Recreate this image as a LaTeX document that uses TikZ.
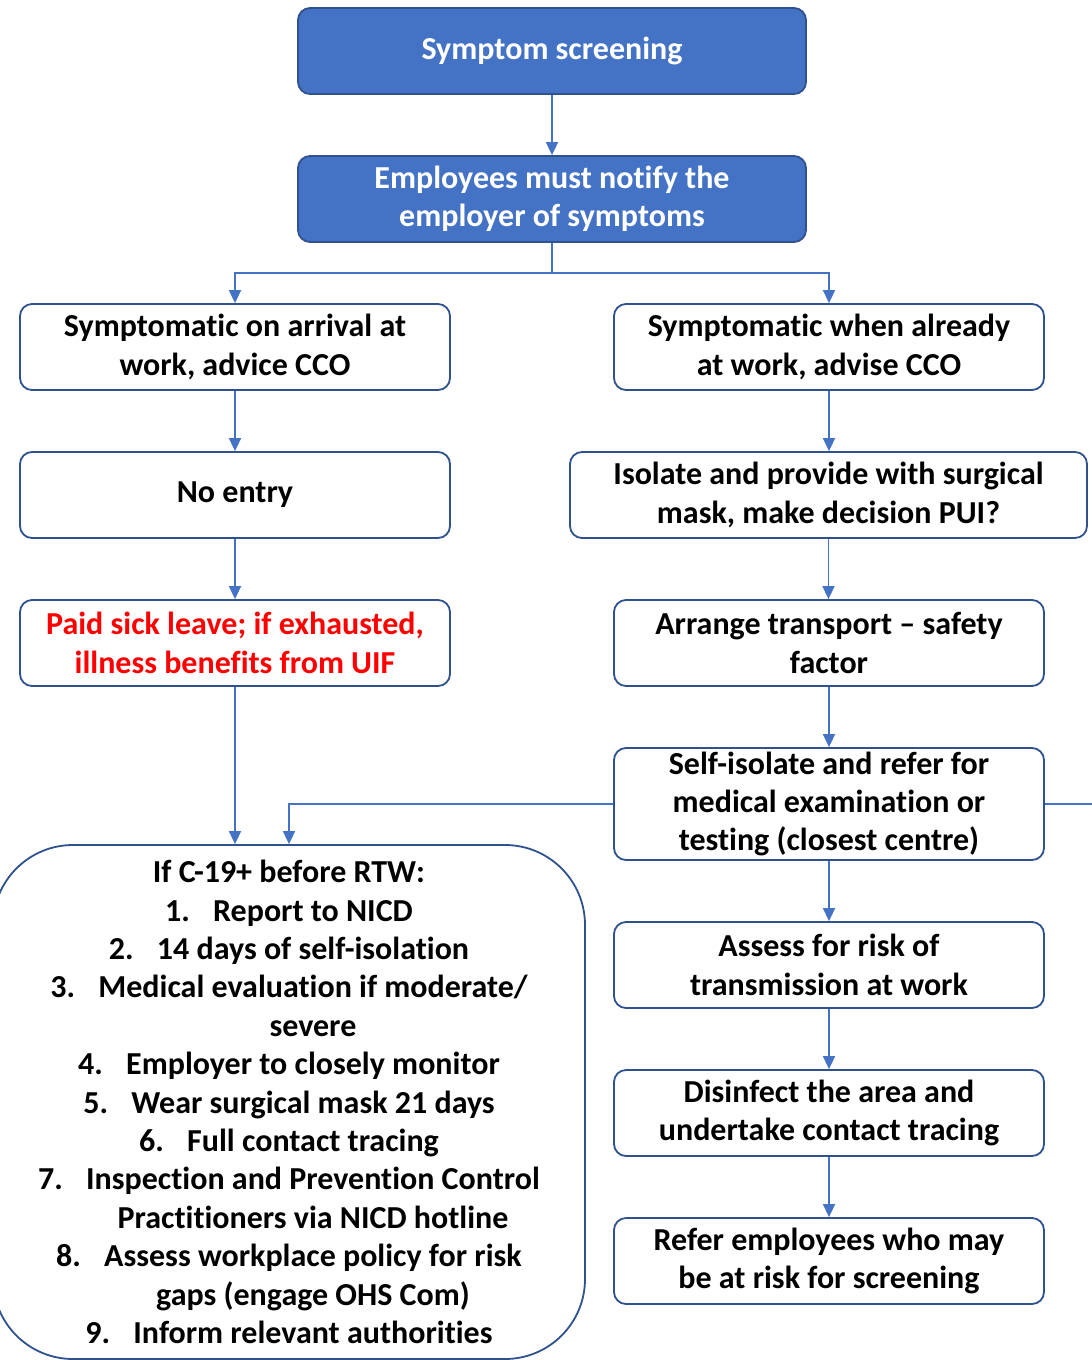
\documentclass[tikz,border=0pt]{standalone}
\usepackage{fontspec}
\setmainfont{Carlito}[Ligatures=CommonOff]
\usetikzlibrary{arrows.meta}

\definecolor{boxblue}{HTML}{4472C4}
\definecolor{boxline}{HTML}{2F528F}
\definecolor{warnred}{HTML}{FF0000}

\newcommand{\numlbl}[1]{\makebox[48pt][l]{#1}}
\newcommand{\hangin}{\hspace*{48pt}}

\tikzset{
    kasten/.style={draw=boxline, line width=1.8pt, fill=white, rounded corners=12pt,
        minimum width=430pt, minimum height=86pt, align=center, inner sep=2pt,
        font=\fontsize{32}{38.4}\selectfont\bfseries},
    blaukasten/.style={kasten, fill=boxblue, text=white, minimum width=508pt},
    pfeil/.style={draw=boxblue, line width=1.6pt, -{Triangle[length=13pt,width=12pt]}},
    linie/.style={draw=boxblue, line width=1.6pt}
}

\begin{document}
\begin{tikzpicture}[x=1pt,y=-1pt]
    \useasboundingbox (0,0) rectangle (1092,1360);
    \path node[blaukasten] (screen) at (552,51) {Symptom screening}
        node[blaukasten] (notify) at (552,199) {Employees must notify the\\employer of symptoms}
        node[kasten] (arrive) at (235,347) {Symptomatic on arrival at\\work, advice CCO}
        node[kasten] (atwork) at (829,347) {Symptomatic when already\\at work, advise CCO}
        node[kasten] (noentry) at (235,495) {No entry}
        node[kasten, minimum width=517pt] (isolate) at (828.5,495) {Isolate and provide with surgical\\mask, make decision PUI?}
        node[kasten, text=warnred] (sickleave) at (235,643) {Paid sick leave; if exhausted,\\illness benefits from UIF}
        node[kasten] (transport) at (829,643) {Arrange transport -- safety\\factor}
        node[kasten, minimum height=112pt, inner sep=0pt] (selfiso) at (829,804) {Self-isolate and refer for\\medical examination or\\testing (closest centre)}
        node[kasten] (assess) at (829,965) {Assess for risk of\\transmission at work}
        node[kasten] (disinfect) at (829,1113) {Disinfect the area and\\undertake contact tracing}
        node[kasten] (refer) at (829,1261) {Refer employees who may\\be at risk for screening}
        node[kasten, minimum width=592pt, minimum height=514pt, rounded corners=80pt] (rtw) at (289,1102)
            {If C-19+ before RTW:\\
             \numlbl{1.}Report to NICD\\
             \numlbl{2.}14 days of self-isolation\\
             \numlbl{3.}Medical evaluation if moderate/\\
             \hangin severe\\
             \numlbl{4.}Employer to closely monitor\\
             \numlbl{5.}Wear surgical mask 21 days\\
             \numlbl{6.}Full contact tracing\\
             \numlbl{7.}Inspection and Prevention Control\\
             \hangin Practitioners via NICD hotline\\
             \numlbl{8.}Assess workplace policy for risk\\
             \hangin gaps (engage OHS Com)\\
             \numlbl{9.}Inform relevant authorities};
    \coordinate (offpage) at (1100,804);
    \draw[pfeil] (screen) -- (notify);
    \draw[pfeil] (notify.south) -- ++(0,30) -| (arrive.north);
    \draw[pfeil] (notify.south) -- ++(0,30) -| (atwork.north);
    \draw[pfeil] (arrive) -- (noentry);
    \draw[pfeil] (noentry) -- (sickleave);
    \draw[pfeil] (sickleave.south) -- (sickleave.south |- rtw.north);
    \draw[pfeil] (atwork.south) -- (atwork.south |- isolate.north);
    \draw[pfeil] (isolate.south) -- (isolate.south |- transport.north);
    \draw[pfeil] (transport) -- (selfiso);
    \draw[pfeil] (selfiso.west) -| (rtw.north);
    \draw[linie] (selfiso.east) -- (offpage);
    \draw[pfeil] (selfiso) -- (assess);
    \draw[pfeil] (assess) -- (disinfect);
    \draw[pfeil] (disinfect) -- (refer);
\end{tikzpicture}
\end{document}
